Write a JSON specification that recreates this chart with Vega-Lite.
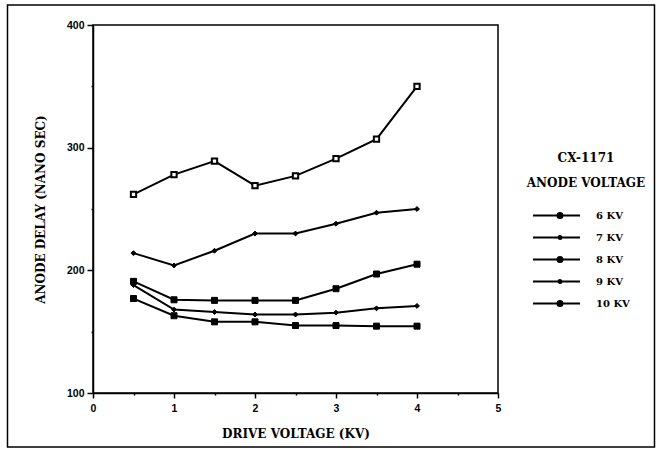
{
  "$schema": "https://vega.github.io/schema/vega-lite/v6.json",
  "width": 405,
  "height": 368,
  "autosize": {"type": "none"},
  "padding": {"left": 93, "top": 25, "right": 164, "bottom": 60},
  "background": "white",
  "config": {
    "view": {"stroke": "black", "strokeWidth": 1.5},
    "axis": {
      "domainColor": "black", "domainWidth": 1.5, "tickColor": "black", "tickWidth": 1.5,
      "grid": false, "labelFont": "Liberation Sans", "labelFontWeight": "bold", "labelFontSize": 10.5,
      "labelColor": "black", "titleFont": "DejaVu Serif", "titleFontWeight": "bold", "titleFontSize": 12,
      "titleColor": "black"
    }
  },
  "datasets": {
    "delay": [
      {"v": 0.5, "d": 262, "s": "6 KV"}, {"v": 1, "d": 278, "s": "6 KV"}, {"v": 1.5, "d": 289, "s": "6 KV"}, {"v": 2, "d": 269, "s": "6 KV"},
      {"v": 2.5, "d": 277, "s": "6 KV"}, {"v": 3, "d": 291, "s": "6 KV"}, {"v": 3.5, "d": 307, "s": "6 KV"}, {"v": 4, "d": 350, "s": "6 KV"},
      {"v": 0.5, "d": 214, "s": "7 KV"}, {"v": 1, "d": 204, "s": "7 KV"}, {"v": 1.5, "d": 216, "s": "7 KV"}, {"v": 2, "d": 230, "s": "7 KV"},
      {"v": 2.5, "d": 230, "s": "7 KV"}, {"v": 3, "d": 238, "s": "7 KV"}, {"v": 3.5, "d": 247, "s": "7 KV"}, {"v": 4, "d": 250, "s": "7 KV"},
      {"v": 0.5, "d": 191, "s": "8 KV"}, {"v": 1, "d": 176, "s": "8 KV"}, {"v": 1.5, "d": 175.5, "s": "8 KV"}, {"v": 2, "d": 175.5, "s": "8 KV"},
      {"v": 2.5, "d": 175.5, "s": "8 KV"}, {"v": 3, "d": 185, "s": "8 KV"}, {"v": 3.5, "d": 197, "s": "8 KV"}, {"v": 4, "d": 205, "s": "8 KV"},
      {"v": 0.5, "d": 188, "s": "9 KV"}, {"v": 1, "d": 168, "s": "9 KV"}, {"v": 1.5, "d": 166, "s": "9 KV"}, {"v": 2, "d": 164, "s": "9 KV"},
      {"v": 2.5, "d": 164, "s": "9 KV"}, {"v": 3, "d": 165.5, "s": "9 KV"}, {"v": 3.5, "d": 169, "s": "9 KV"}, {"v": 4, "d": 171, "s": "9 KV"},
      {"v": 0.5, "d": 177, "s": "10 KV"}, {"v": 1, "d": 163, "s": "10 KV"}, {"v": 1.5, "d": 158, "s": "10 KV"}, {"v": 2, "d": 158, "s": "10 KV"},
      {"v": 2.5, "d": 155, "s": "10 KV"}, {"v": 3, "d": 155, "s": "10 KV"}, {"v": 3.5, "d": 154.5, "s": "10 KV"}, {"v": 4, "d": 154.5, "s": "10 KV"}
    ]
  },
  "layer": [
    {
      "data": {"values": [{}]},
      "mark": {"type": "rect", "fill": null, "stroke": "black", "strokeWidth": 1.5},
      "encoding": {
        "x": {"datum": -1.0556, "type": "quantitative"},
        "x2": {"datum": 6.932},
        "y": {"datum": 416.3, "type": "quantitative"},
        "y2": {"datum": 56}
      }
    },
    {
      "data": {"name": "delay"},
      "mark": {"type": "line", "strokeWidth": 2},
      "encoding": {
        "x": {
          "field": "v", "type": "quantitative",
          "scale": {"domain": [0, 5], "nice": false, "zero": false},
          "axis": {
            "title": "DRIVE VOLTAGE (KV)",
            "values": [0, 0.5, 1, 1.5, 2, 2.5, 3, 3.5, 4, 4.5, 5],
            "labelExpr": "datum.value % 1 === 0 ? format(datum.value, 'd') : ''",
            "tickSize": {"condition": {"test": "datum.value % 1 !== 0", "value": 2}, "value": 5},
            "labelPadding": 5, "titlePadding": 15, "labelFlush": false
          }
        },
        "y": {
          "field": "d", "type": "quantitative",
          "scale": {"domain": [100, 400], "nice": false, "zero": false},
          "axis": {
            "title": "ANODE DELAY (NANO SEC)",
            "values": [100, 150, 200, 250, 300, 350, 400],
            "labelExpr": "datum.value % 100 === 0 ? datum.label : ''",
            "tickSize": {"condition": {"test": "datum.value % 100 !== 0", "value": 2}, "value": 6},
            "labelPadding": 3, "titlePadding": 19, "labelFlush": false
          }
        },
        "color": {
          "field": "s", "type": "nominal",
          "scale": {"domain": ["6 KV", "7 KV", "8 KV", "9 KV", "10 KV"], "range": ["black", "black", "black", "black", "black"]},
          "legend": {
            "orient": "none", "legendX": 434, "legendY": 127.5, "padding": 0,
            "title": ["CX-1171", "ANODE VOLTAGE"],
            "titleFont": "DejaVu Serif", "titleFontWeight": "bold", "titleFontSize": 12, "titleColor": "black",
            "titleLineHeight": 25, "titleAlign": "center", "titleAnchor": "middle", "titlePadding": 20,
            "symbolType": "M-3.2,0H6.2M1.7,0A0.5,0.5,0,1,0,2.7,0A0.5,0.5,0,1,0,1.7,0Z",
            "symbolSize": 100, "symbolStrokeWidth": 2, "symbolStrokeColor": "black", "symbolFillColor": "black",
            "labelFont": "DejaVu Serif", "labelFontWeight": "bold", "labelFontSize": 10, "labelColor": "black",
            "labelOffset": 41, "rowPadding": 9,
            "encode": {
              "symbols": {
                "update": {
                  "shape": {"signal": "(datum.value === '7 KV' || datum.value === '9 KV') ? 'M-3.2,0H6.2M1.9,0A0.3,0.3,0,1,0,2.5,0A0.3,0.3,0,1,0,1.9,0Z' : 'M-3.2,0H6.2M1.7,0A0.5,0.5,0,1,0,2.7,0A0.5,0.5,0,1,0,1.7,0Z'"},
                  "fill": {"value": "black"},
                  "stroke": {"value": "black"},
                  "strokeWidth": {"value": 2}
                }
              }
            }
          }
        }
      }
    },
    {
      "data": {"name": "delay"},
      "transform": [{"filter": "datum.s === '6 KV'"}],
      "mark": {"type": "point", "shape": "square", "filled": true, "fill": "white", "stroke": "black", "strokeWidth": 2, "size": 28, "opacity": 1},
      "encoding": {
        "x": {"field": "v", "type": "quantitative"},
        "y": {"field": "d", "type": "quantitative"}
      }
    },
    {
      "data": {"name": "delay"},
      "transform": [{"filter": "datum.s === '8 KV' || datum.s === '10 KV'"}],
      "mark": {"type": "point", "shape": "square", "filled": true, "fill": "black", "stroke": "black", "strokeWidth": 1, "size": 36, "opacity": 1},
      "encoding": {
        "x": {"field": "v", "type": "quantitative"},
        "y": {"field": "d", "type": "quantitative"}
      }
    },
    {
      "data": {"name": "delay"},
      "transform": [{"filter": "datum.s === '7 KV' || datum.s === '9 KV'"}],
      "mark": {"type": "point", "shape": "diamond", "filled": true, "fill": "black", "stroke": "black", "strokeWidth": 1, "size": 24, "opacity": 1},
      "encoding": {
        "x": {"field": "v", "type": "quantitative"},
        "y": {"field": "d", "type": "quantitative"}
      }
    }
  ]
}
